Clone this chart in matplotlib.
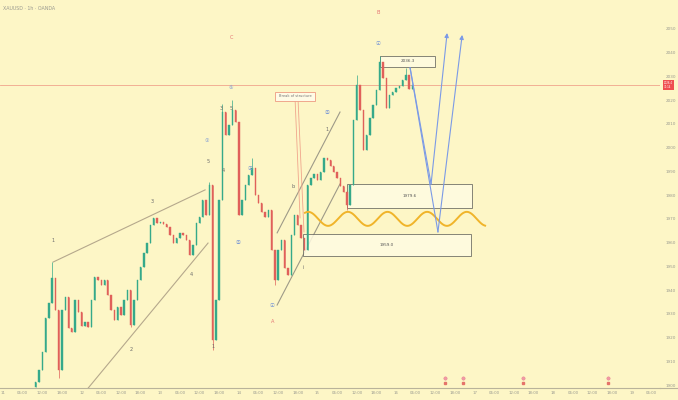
import numpy as np
import matplotlib
matplotlib.use("Agg")
import matplotlib.pyplot as plt
from matplotlib.patches import Rectangle
import matplotlib.transforms as mtransforms

# ---- hourly price data -------------------------------------------------
hours = list(range(10, 126))
closes = [
    1901.3, 1906.3, 1913.9, 1928.2, 1934.6, 1945.1, 1931.6, 1906.3, 1931.6, 1937.1,
    1924.0, 1922.3, 1935.8, 1930.8, 1924.9, 1926.5, 1924.4, 1935.8, 1945.5, 1944.2,
    1942.1, 1944.2, 1937.9, 1931.6, 1927.4, 1932.9, 1929.5, 1935.8, 1940.0, 1925.3,
    1935.8, 1944.2, 1949.7, 1955.6, 1959.8, 1967.4, 1970.4, 1968.3, 1968.7, 1967.8,
    1966.6, 1963.2, 1959.8, 1961.9, 1964.1, 1963.2, 1961.1, 1954.8, 1959.0, 1968.3,
    1970.8, 1978.0, 1971.6, 1984.3, 1919.0, 1935.8, 1978.0, 2015.0, 2005.4, 2009.6,
    2015.9, 2010.8, 1971.6, 1978.0, 1984.3, 1988.5, 1991.4, 1980.1, 1976.7, 1972.9,
    1970.8, 1973.7, 1956.9, 1944.2, 1956.9, 1961.1, 1949.3, 1946.4, 1963.2, 1971.6,
    1967.4, 1961.9, 1956.9, 1984.3, 1987.2, 1988.9, 1986.4, 1989.8, 1995.7, 1994.8,
    1992.3, 1989.8, 1987.2, 1983.9, 1981.3, 1975.9, 1984.3, 2011.7, 2026.4, 2015.9,
    1999.0, 2005.4, 2012.5, 2018.0, 2024.3, 2036.1, 2029.4, 2016.7, 2022.2, 2023.5,
    2025.2, 2026.0, 2028.5, 2030.6, 2024.9, 2026.4,
]
first_open = 1899.0
wick_highs = {15: 1951.8, 63: 1985.5, 67: 2018.5, 70: 2020.1, 76: 1995.7,
              108: 2030.6, 115: 2038.6, 123: 2033.6}
wick_lows = {17: 1902.9, 39: 1924.4, 64: 1914.7, 83: 1942.1, 105: 1973.7}

# ---- drawing-tool anchors (hour, price) ---------------------------------
wedge_upper = [(15.3, 1951.8), (61.7, 1982.2)]
wedge_lower = [(26.0, 1898.7), (62.6, 1959.8)]
channel_upper = [(83.7, 1964.1), (102.9, 2015.0)]
channel_lower = [(83.7, 1933.7), (102.9, 1984.7)]
zones = [  # (start hour, end hour, low, high, label)
    (115.1, 131.9, 2034.0, 2038.6, "2036.3"),
    (105.0, 143.2, 1974.6, 1984.7, "1979.6"),
    (91.6, 142.9, 1954.4, 1963.6, "1959.0"),
]
wave_start, wave_end = 92.2, 147.2
wave_center, wave_amp, wave_period, wave_crest = 1970.0, 2.95, 12.1, 105.3
path_a = [(124.3, 2033.6), (132.8, 1964.5), (140.2, 2047.5)]
path_b = [(124.3, 2033.6), (130.7, 1984.7), (135.6, 2048.3)]
callout_box = (83.1, 95.3, 2019.7, 2023.5)
callout_text = "Break of structure"
callout_legs = [[(89.2, 2019.7), (90.7, 1970.4)], [(90.1, 2019.7), (91.9, 1964.5)]]
wave_labels = [  # (hour, price, text, colour)
    (15.3, 1961.0, "1", "#6b6b6b"), (39.2, 1914.8, "2", "#6b6b6b"),
    (45.5, 1977.2, "3", "#6b6b6b"), (57.4, 1946.4, "4", "#6b6b6b"),
    (62.6, 1994.0, "5", "#6b6b6b"), (64.1, 1916.3, "1", "#6b6b6b"),
    (67.2, 1990.4, "4", "#6b6b6b"), (66.6, 2016.7, "3", "#6b6b6b"),
    (69.6, 2016.7, "5", "#6b6b6b"), (88.5, 1983.5, "b", "#6b6b6b"),
    (91.6, 1949.3, "i", "#6b6b6b"), (98.9, 2007.7, "1", "#6b6b6b"),
    (62.3, 2002.8, "①", "#7f9bd4"), (69.6, 2025.2, "⑤", "#7f9bd4"),
    (75.4, 1991.4, "ⓐ", "#7f9bd4"), (71.8, 1960.2, "ⓑ", "#7f9bd4"),
    (82.4, 1933.3, "ⓒ", "#7f9bd4"), (98.9, 2014.7, "ⓑ", "#7f9bd4"),
    (114.5, 2043.7, "ⓒ", "#7f9bd4"),
    (69.6, 2046.2, "C", "#e57373"), (82.4, 1926.9, "A", "#e57373"),
    (114.5, 2056.9, "B", "#e57373"),
]
event_hours = [135.0, 140.4, 158.8, 184.7]
ticker = "XAUUSD · 1h · OANDA"

# ---- figure ------------------------------------------------------------
bg = "#fdf6c6"
fig = plt.figure(figsize=(6.78, 4.0), dpi=100, facecolor=bg)
ax = fig.add_axes([0, 12 / 400, 660 / 678, 388 / 400], facecolor=bg)
ax.set_xlim(-0.916, 200.6)
ax.set_ylim(1898.74, 2062.2)

up_col, dn_col = "#35a98a", "#e0605a"
opens = [first_open] + closes[:-1]
for h, o, c in zip(hours, opens, closes):
    col = up_col if c >= o else dn_col
    hi = wick_highs.get(h, max(o, c))
    lo = wick_lows.get(h, min(o, c))
    ax.vlines(h, lo, hi, color=col, lw=0.5, zorder=3)
    ax.bar(h, max(abs(c - o), 0.25), bottom=min(o, c), width=0.42,
           color=col, edgecolor=col, lw=0.3, zorder=3)

# current price line
last = closes[-1]
ax.axhline(last, color="#f1a48c", lw=0.6, zorder=1)

# wedge and channel
for seg, col in [(wedge_upper, "#b5a88c"), (wedge_lower, "#b5a88c"),
                 (channel_upper, "#9e9a88"), (channel_lower, "#9e9a88")]:
    (x0, y0), (x1, y1) = seg
    ax.plot([x0, x1], [y0, y1], color=col, lw=0.8, zorder=2)

# zones
for x0, x1, lo, hi, lab in zones:
    ax.add_patch(Rectangle((x0, lo), x1 - x0, hi - lo, facecolor="#fffbe2",
                           edgecolor="#5a5a55", lw=0.6, alpha=0.85, zorder=2))
    ax.text((x0 + x1) / 2, (lo + hi) / 2, lab, fontsize=3, color="#555555",
            ha="center", va="center", zorder=4)

# cycle wave
t = np.linspace(wave_start, wave_end, 500)
w = wave_center + wave_amp * np.cos(2 * np.pi * (t - wave_crest) / wave_period)
ax.plot(t, w, color="#f0b42a", lw=1.4, zorder=4)

# projection paths
for path in (path_a, path_b):
    xs = [p[0] for p in path]
    ys = [p[1] for p in path]
    ax.plot(xs[:-1], ys[:-1], color="#7b9ae6", lw=0.8, zorder=4)
    ax.annotate("", xy=path[-1], xytext=path[-2],
                arrowprops=dict(arrowstyle="-|>", color="#7b9ae6", lw=0.8,
                                mutation_scale=6, shrinkA=0, shrinkB=0),
                zorder=4)

# callout
cx0, cx1, clo, chi = callout_box
ax.add_patch(Rectangle((cx0, clo), cx1 - cx0, chi - clo, facecolor="#fffbe6",
                       edgecolor="#ee9a80", lw=0.6, zorder=4))
ax.text((cx0 + cx1) / 2, (clo + chi) / 2, callout_text, fontsize=2.6,
        color="#777777", ha="center", va="center", zorder=5)
for (x0, y0), (x1, y1) in callout_legs:
    ax.plot([x0, x1], [y0, y1], color="#f0a58c", lw=0.6, zorder=2)

# wave labels
for x, y, s, col in wave_labels:
    ax.text(x, y, s, fontsize=3.6, color=col, ha="center", va="center", zorder=5,
            family=["DejaVu Sans", "Noto Sans CJK JP"])

# event markers on the time scale
for eh in event_hours:
    ax.plot(eh, 1903.0, marker="o", ms=2.4, color="#f19aa6", mec="#e57a8a",
            mew=0.3, zorder=5)
    ax.plot(eh, 1900.9, marker="s", ms=1.6, color="#e5736a", zorder=5)

# axes styling
for s in ("top", "left", "right"):
    ax.spines[s].set_visible(False)
ax.spines["bottom"].set_color("#b9b39a")
ax.spines["bottom"].set_linewidth(0.8)
fig.add_artist(plt.Line2D([660 / 678, 1], [12 / 400, 12 / 400],
                          color="#b9b39a", lw=0.8))

ax.yaxis.tick_right()
yt = list(range(1900, 2051, 10))
ax.set_yticks(yt)
ax.set_yticklabels([f"{v}" for v in yt])
ax.tick_params(axis="y", length=0, labelsize=3.0, labelcolor="#9a9a90", pad=4)

xt = list(range(0, 199, 6))
day0 = 11
xl = []
for v in xt:
    if v % 24 == 0:
        xl.append(str(day0 + v // 24))
    else:
        xl.append(f"{v % 24:02d}:00")
ax.set_xticks(xt)
ax.set_xticklabels(xl)
ax.tick_params(axis="x", length=0, labelsize=2.8, labelcolor="#9a9a90", pad=1.8)

# price tag
trans = mtransforms.blended_transform_factory(ax.transAxes, ax.transData)
ax.text(1.006, last, f"{last:.1f}\n32:14", transform=trans, fontsize=1.9,
        color="white", ha="left", va="center", zorder=6, clip_on=False,
        linespacing=1.3,
        bbox=dict(boxstyle="square,pad=0.25", fc="#ef4f4f", ec="none"))

fig.text(0.004, 0.985, ticker, fontsize=3.4, color="#9a9a90", ha="left", va="top")

fig.savefig("out.png", dpi=100, facecolor=bg)
